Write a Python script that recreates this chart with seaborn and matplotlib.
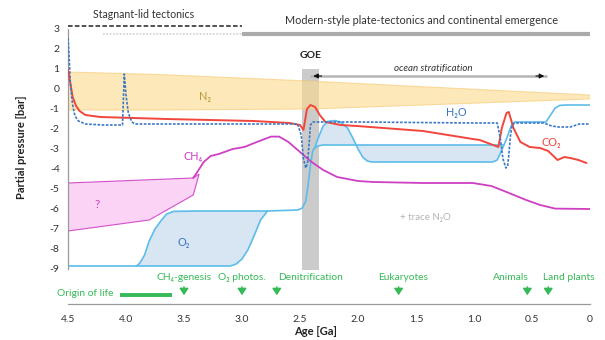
import numpy as np
import matplotlib
matplotlib.use("Agg")
import matplotlib.pyplot as plt
import seaborn as sns

sns.set_theme(style="white")
plt.rcParams["font.family"] = ["Lato", "DejaVu Sans"]
plt.rcParams["axes.unicode_minus"] = False

# ---------------- data: age [Ga], log10 partial pressure [bar] ----------------
n2_top_age = [4.5, 3.7, 2.5, 0.0]
n2_top = [0.85, 0.72, 0.42, -0.3]
n2_bottom_age = [4.5, 3.7, 2.4, 0.0]
n2_bottom = [-1.05, -1.05, -1.0, -0.5]

co2_age = [4.50, 4.48, 4.46, 4.43, 4.40, 4.35, 4.22, 3.65, 2.90, 2.59,
           2.50, 2.47, 2.44, 2.41, 2.37, 2.33, 2.28, 2.15, 2.01, 1.44,
           1.01, 0.95, 0.79, 0.76, 0.72, 0.70, 0.66, 0.60, 0.52, 0.43,
           0.36, 0.28, 0.22, 0.17, 0.10, 0.03]
co2 = [0.95, 0.3, -0.4, -0.85, -1.1, -1.3, -1.4, -1.5, -1.6, -1.7,
       -1.8, -2.05, -1.0, -0.8, -0.9, -1.3, -1.65, -1.8, -1.85, -2.1,
       -2.5, -2.55, -2.9, -1.95, -1.2, -1.15, -1.95, -2.65, -2.9, -2.95,
       -3.1, -3.55, -3.4, -3.45, -3.55, -3.7]

h2o_age = [4.50, 4.49, 4.48, 4.46, 4.44, 4.41, 4.35, 4.20, 4.03, 4.015,
           4.00, 3.98, 3.95, 3.92, 3.60, 2.52, 2.49, 2.47, 2.45, 2.435,
           2.42, 2.41, 2.39, 2.0, 1.0, 0.80, 0.775, 0.75, 0.725, 0.71,
           0.70, 0.685, 0.67, 0.65, 0.40, 0.33, 0.27, 0.17, 0.09, 0.0]
h2o = [2.55, 1.6, 0.3, -0.8, -1.35, -1.6, -1.75, -1.8, -1.8, 0.75,
       -0.3, -1.2, -1.65, -1.75, -1.75, -1.75, -2.3, -3.5, -3.95, -3.7,
       -2.6, -1.8, -1.65, -1.65, -1.7, -1.7, -2.4, -3.5, -3.95, -3.85,
       -3.3, -2.3, -1.8, -1.7, -1.7, -1.85, -1.9, -1.9, -1.75, -1.75]

ch4_age = [3.42, 3.38, 3.33, 3.27, 3.20, 3.08, 2.98, 2.85, 2.75, 2.68,
           2.60, 2.50, 2.40, 2.30, 2.18, 2.00, 1.87, 1.44, 1.01, 0.85,
           0.72, 0.55, 0.43, 0.30, 0.0]
ch4 = [-4.45, -4.1, -3.65, -3.35, -3.25, -3.0, -2.9, -2.6, -2.38, -2.38,
       -2.65, -3.15, -3.65, -4.05, -4.4, -4.6, -4.65, -4.7, -4.7, -4.85,
       -5.15, -5.55, -5.8, -5.98, -6.0]

# uncertain early CH4 range ("?")
ch4_q_top_age = [4.5, 3.42, 3.37]
ch4_q_top = [-4.7, -4.45, -4.25]
ch4_q_bottom_age = [4.5, 3.8, 3.42, 3.37]
ch4_q_bottom = [-7.1, -6.55, -5.3, -4.25]

# O2: main envelope, Archean lower branch, Proterozoic alternative branch
o2_age = [4.50, 3.91, 3.88, 3.84, 3.80, 3.75, 3.70, 3.65, 3.59, 3.40,
          2.78, 2.52, 2.48, 2.45, 2.43, 2.41, 2.39, 2.37, 2.34, 2.30,
          2.26, 2.20, 2.15, 2.09, 2.04, 2.00, 1.96, 1.92, 1.88, 0.84,
          0.80, 0.76, 0.72, 0.68, 0.65, 0.38, 0.34, 0.30, 0.26, 0.20, 0.0]
o2 = [-8.85, -8.85, -8.7, -8.3, -7.6, -7.0, -6.6, -6.25, -6.12, -6.1,
      -6.1, -6.05, -5.95, -5.6, -4.8, -3.8, -3.1, -2.9, -2.4, -1.85,
      -1.62, -1.58, -1.65, -1.95, -2.5, -3.0, -3.4, -3.6, -3.65, -3.65,
      -3.55, -3.05, -2.5, -1.85, -1.65, -1.65, -1.3, -0.95, -0.82, -0.8, -0.8]
o2_low_age = [3.91, 3.10, 3.05, 3.00, 2.95, 2.90, 2.84, 2.78]
o2_low = [-8.85, -8.85, -8.75, -8.5, -8.05, -7.4, -6.55, -6.1]
o2_alt_age = [2.38, 2.35, 2.30, 0.745]
o2_alt = [-3.0, -2.85, -2.8, -2.8]

# events along the bottom
event_names = ["CH₄-genesis", "O₂ photos.", "Denitrification", "Eukaryotes", "Animals", "Land plants"]
event_age = [3.5, 3.0, 2.7, 1.65, 0.54, 0.36]
event_label_age = [3.5, 3.0, 2.41, 1.61, 0.68, 0.18]
origin_of_life = [4.05, 3.6]

# tectonic regimes and markers
stagnant_lid = [4.5, 3.0]
plate_tectonics_onset = [4.2, 3.0]
plate_tectonics = [3.0, 0.0]
goe_span = [2.48, 2.34]
stratification = [2.41, 0.37]

x_ticks = [4.5, 4.0, 3.5, 3.0, 2.5, 2.0, 1.5, 1.0, 0.5, 0.0]
x_tick_labels = ["4.5", "4.0", "3.5", "3.0", "2.5", "2.0", "1.5", "1.0", "0.5", "0"]
y_ticks = list(range(-9, 4))

# ---------------- colours ----------------
c_red = "#f2463c"
c_h2o = "#3b78c4"
c_o2 = "#5cbcea"
c_o2_fill = "#d8e6f4"
c_mag = "#cf3fc3"
c_pink = "#fbd0f4"
c_n2 = "#fcd98c"
c_n2_edge = "#f7c870"
c_green = "#36b957"
c_text = "#333333"

fig = plt.figure(figsize=(6.05, 3.4), dpi=100)
ax = fig.add_axes([68 / 605, 36 / 340, 522 / 605, 304 / 340])
ax.set_xlim(4.5, 0.0)
ax.set_ylim(-10.75, 4.45)

# GOE band
ax.fill_between(goe_span, -9.05, 1.0, color="#cbcbcb", lw=0, zorder=1)

# N2 band
ax.fill(n2_top_age + n2_bottom_age[::-1], n2_top + n2_bottom[::-1],
        facecolor=c_n2, edgecolor=c_n2_edge, alpha=0.6, lw=0.8, zorder=2)

# CH4 "?" range
ax.fill(ch4_q_top_age + ch4_q_bottom_age[::-1], ch4_q_top + ch4_q_bottom[::-1],
        facecolor=c_pink, edgecolor=c_mag, lw=0.8, alpha=0.9, zorder=2)

# O2 envelopes
o2_age_a = np.array(o2_age)
o2_a = np.array(o2)
sel = (o2_age_a <= 3.91) & (o2_age_a >= 2.78)
ax.fill(list(o2_age_a[sel]) + o2_low_age[::-1], list(o2_a[sel]) + o2_low[::-1],
        facecolor=c_o2_fill, lw=0, zorder=2)
sel = (o2_age_a < o2_alt_age[0]) & (o2_age_a > o2_alt_age[-1])
ax.fill([o2_alt_age[0]] + list(o2_age_a[sel]) + o2_alt_age[::-1][:-1],
        [o2_alt[0]] + list(o2_a[sel]) + o2_alt[::-1][:-1],
        facecolor=c_o2_fill, lw=0, zorder=2)

line_kw = dict(ax=ax, sort=False, estimator=None, legend=False)
sns.lineplot(x=o2_age, y=o2, color=c_o2, lw=1.2, zorder=3, **line_kw)
sns.lineplot(x=o2_low_age, y=o2_low, color=c_o2, lw=1.2, zorder=3, **line_kw)
sns.lineplot(x=o2_alt_age, y=o2_alt, color=c_o2, lw=1.2, zorder=3, **line_kw)
sns.lineplot(x=ch4_age, y=ch4, color=c_mag, lw=1.3, zorder=4, **line_kw)
sns.lineplot(x=co2_age, y=co2, color=c_red, lw=1.4, zorder=5, **line_kw)
sns.lineplot(x=h2o_age, y=h2o, color=c_h2o, lw=1.2, linestyle=(0, (1.6, 0.9)), zorder=6, **line_kw)

# curve labels
ax.text(3.32, -0.4, "N₂", color="#b59a35", fontsize=7.8, ha="center", va="center", zorder=7)
ax.text(1.15, -1.2, "H₂O", color=c_h2o, fontsize=7.8, ha="center", va="center", zorder=7)
ax.text(0.33, -2.65, "CO₂", color=c_red, fontsize=7.8, ha="center", va="center", zorder=7)
ax.text(3.42, -3.4, "CH₄", color=c_mag, fontsize=7.8, ha="center", va="center", zorder=7)
ax.text(3.50, -7.65, "O₂", color=c_h2o, fontsize=7.8, ha="center", va="center", zorder=7)
ax.text(4.25, -5.8, "?", color=c_mag, fontsize=8.5, ha="center", va="center", zorder=7)
ax.text(1.42, -6.4, "+ trace N₂O", color="#b4b4b4", fontsize=7, ha="center", va="center")

# GOE and ocean stratification
ax.text(2.41, 1.7, "GOE", fontsize=7.5, fontweight="bold", color="#222222", ha="center", va="center")
ax.plot(stratification, [0.65, 0.65], color="#b5b5b5", lw=1.8, zorder=4, solid_capstyle="butt")
for tip, tail in [(stratification[0], stratification[0] - 0.12), (stratification[1], stratification[1] + 0.12)]:
    ax.annotate("", xy=(tip, 0.65), xytext=(tail, 0.65),
                arrowprops=dict(arrowstyle="-|>", color="#111111", lw=0.8, mutation_scale=7), zorder=5)
ax.text(1.35, 1.0, "ocean stratification", fontsize=7, style="italic", color=c_text,
        ha="center", va="center")

# tectonic regimes above the plot
ax.plot(stagnant_lid, [3.17, 3.17], color="#222222", lw=1.1, linestyle=(0, (3, 1.5)), clip_on=False)
ax.plot(plate_tectonics_onset, [2.75, 2.75], color="#cfcfcf", lw=1.2, linestyle=(0, (1, 1)), clip_on=False)
ax.plot(plate_tectonics, [2.75, 2.75], color="#aaaaaa", lw=3, clip_on=False, solid_capstyle="butt")
ax.text(3.85, 3.75, "Stagnant-lid tectonics", fontsize=7.6, color=c_text, ha="center", va="center")
ax.text(1.45, 3.45, "Modern-style plate-tectonics and continental emergence", fontsize=7.8,
        color=c_text, ha="center", va="center")

# biological events
for name, age, lab_age in zip(event_names, event_age, event_label_age):
    ax.annotate("", xy=(age, -10.45), xytext=(age, -9.75),
                arrowprops=dict(arrowstyle="-|>,head_length=0.45,head_width=0.3",
                                color=c_green, lw=1.0, mutation_scale=9))
    ax.text(lab_age, -9.45, name, color=c_green, fontsize=7.4, ha="center", va="center")
ax.plot(origin_of_life, [-10.3, -10.3], color=c_green, lw=2.8, solid_capstyle="butt")
ax.text(4.35, -10.2, "Origin of life", color=c_green, fontsize=7.4, ha="center", va="center")

# axes styling
sns.despine(ax=ax, top=True, right=True)
ax.spines["left"].set_bounds(-9, 3)
for s in ("left", "bottom"):
    ax.spines[s].set_color("#9a9a9a")
    ax.spines[s].set_linewidth(0.9)
ax.set_xticks(x_ticks)
ax.set_xticklabels(x_tick_labels)
ax.set_yticks(y_ticks)
ax.tick_params(axis="both", labelsize=7.5, colors="#9a9a9a", labelcolor=c_text, length=3,
               width=0.8, direction="out")
ax.tick_params(axis="x", pad=5)
ax.tick_params(axis="y", pad=3)
ax.set_xlabel("Age [Ga]", fontsize=8, fontweight="bold", color="#222222")
ax.set_ylabel("Partial pressure [bar]", fontsize=8, fontweight="bold", color="#222222")
ax.xaxis.set_label_coords((316 - 68) / 522, (304 - 326) / 304)
ax.yaxis.set_label_coords((27 - 68) / 522, (304 - 147) / 304)
ax.grid(False)

fig.savefig("out.png", dpi=100)
